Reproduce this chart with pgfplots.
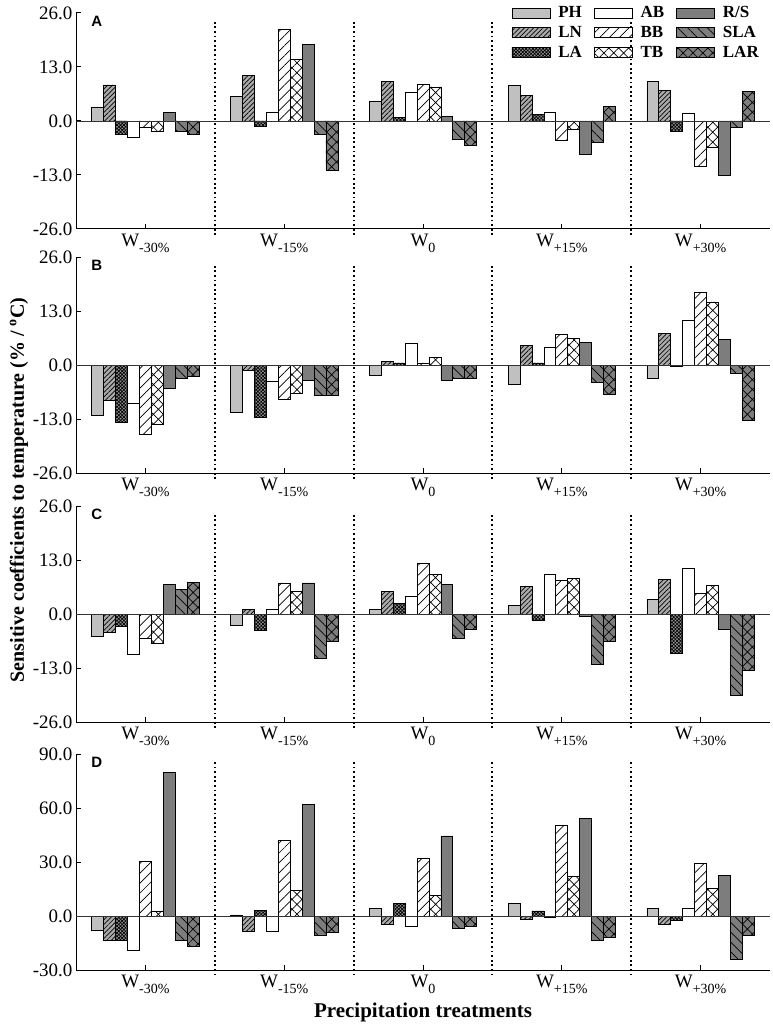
\documentclass[border=0pt]{standalone}
\usepackage{fontspec}
\setmainfont{Liberation Serif}
\newfontfamily\arialf{Liberation Sans}
\usepackage{pgfplots}
\pgfplotsset{compat=1.18}
\usepackage{pgfplotstable}
\usetikzlibrary{patterns.meta}

\definecolor{cPH}{RGB}{192,192,192}
\definecolor{cLN}{RGB}{170,170,170}
\definecolor{cLA}{RGB}{150,150,150}
\definecolor{cDG}{RGB}{125,125,125}

\pgfplotstableread{
x PH LN LA AB BB TB RS SLA LAR
0 3.4 8.7 -3.3 -3.9 -1.6 -2.6 2.0 -2.6 -3.3
1 6.0 11.0 -1.2 2.0 22.1 14.8 18.5 -3.3 -11.8
2 4.7 9.5 0.8 7.0 8.8 8.2 1.2 -4.4 -5.9
3 8.6 6.2 1.6 2.2 -4.7 -2.1 -8.0 -5.2 3.5
4 9.5 7.3 -2.6 1.9 -10.8 -6.3 -13.1 -1.5 7.2
}\tabA
\pgfplotstableread{
x PH LN LA AB BB TB RS SLA LAR
0 -12.1 -8.5 -13.7 -9.3 -16.7 -14.4 -5.6 -3.3 -2.7
1 -11.3 -1.4 -12.5 -4.0 -8.2 -6.9 -3.8 -7.3 -7.3
2 -2.4 0.8 0.5 5.1 0.5 1.9 -3.7 -3.3 -3.2
3 -4.6 4.8 0.5 4.2 7.3 6.4 5.4 -4.1 -7.1
4 -3.3 7.6 -0.3 10.7 17.4 15.2 6.2 -2.1 -13.3
}\tabB
\pgfplotstableread{
x PH LN LA AB BB TB RS SLA LAR
0 -5.3 -4.5 -2.9 -9.6 -5.9 -7.0 7.1 5.9 7.7
1 -2.7 1.2 -3.9 1.1 7.5 5.5 7.5 -10.6 -6.7
2 1.2 5.4 2.6 4.2 12.1 9.6 7.2 -5.9 -3.7
3 2.1 6.6 -1.6 9.5 8.1 8.6 -0.6 -12.0 -6.5
4 3.5 8.4 -9.5 10.9 4.9 6.8 -3.7 -19.5 -13.6
}\tabC
\pgfplotstableread{
x PH LN LA AB BB TB RS SLA LAR
0 -7.7 -13.5 -13.5 -19.0 30.1 2.8 79.9 -13.5 -17.0
1 0.6 -8.3 3.3 -8.5 41.9 14.0 62.2 -10.9 -8.9
2 4.1 -4.6 7.0 -5.5 32.1 11.3 44.5 -6.8 -5.7
3 7.0 -1.8 2.8 -0.9 50.2 22.0 54.1 -13.5 -11.6
4 4.1 -4.6 -2.2 4.2 29.2 15.1 22.5 -24.2 -10.5
}\tabD

\newcommand\Wsub[1]{W\raisebox{-0.65ex}{\fontsize{14}{14}\selectfont #1}}

\tikzset{divs/.style={line width=1.9pt, dash pattern=on 1.9pt off 2.7pt}}

\pgfplotsset{
  mylegend/.style={legend image code/.code={\draw[##1,line width=0.7pt] (0pt,-5pt) rectangle (38pt,5pt);}},
  sPH/.style={fill=cPH,draw=black,line width=0.7pt,mylegend},
  sLN/.style={fill=cLN,draw=black,line width=0.7pt,postaction={pattern={Lines[angle=45,distance=3.3pt,line width=0.7pt]},pattern color=black},mylegend},
  sLA/.style={fill=cLA,draw=black,line width=0.7pt,postaction={pattern={Hatch[angle=45,distance=2.4pt,line width=0.7pt]},pattern color=black},mylegend},
  sAB/.style={fill=white,draw=black,line width=0.7pt,mylegend},
  sBB/.style={fill=white,draw=black,line width=0.7pt,postaction={pattern={Lines[angle=45,distance=7pt,line width=0.7pt]},pattern color=black},mylegend},
  sTB/.style={fill=white,draw=black,line width=0.7pt,postaction={pattern={Hatch[angle=45,distance=7pt,line width=0.7pt]},pattern color=black},mylegend},
  sRS/.style={fill=cDG,draw=black,line width=0.7pt,mylegend},
  sSLA/.style={fill=cDG,draw=black,line width=0.7pt,postaction={pattern={Lines[angle=-45,distance=7pt,line width=0.7pt]},pattern color=black},mylegend},
  sLAR/.style={fill=cDG,draw=black,line width=0.7pt,postaction={pattern={Hatch[angle=45,distance=7pt,line width=0.7pt]},pattern color=black},mylegend},
  panel/.style={
    width=694pt, height=216pt, scale only axis,
    ybar=0pt, bar width=0.086,
    xmin=-0.5, xmax=4.5, xtick={0,1,2,3,4},
    xticklabels={\Wsub{-30\%},\Wsub{-15\%},\Wsub{0},\Wsub{+15\%},\Wsub{+30\%}},
    axis x line*=bottom, axis y line*=left,
    axis line style={line width=1pt},
    tick align=inside, major tick length=5pt,
    tick style={line width=1pt,black},
    tick label style={font=\fontsize{19}{20}\selectfont},
    yticklabel style={/pgf/number format/.cd,fixed,fixed zerofill,precision=1,assume math mode=true},
    xticklabel style={yshift=-2pt},
    clip=false,
  },
}

\newcommand\plotall[1]{%
  \addplot[sPH] table[x=x,y=PH]{#1};
  \addplot[sLN] table[x=x,y=LN]{#1};
  \addplot[sLA] table[x=x,y=LA]{#1};
  \addplot[sAB] table[x=x,y=AB]{#1};
  \addplot[sBB] table[x=x,y=BB]{#1};
  \addplot[sTB] table[x=x,y=TB]{#1};
  \addplot[sRS] table[x=x,y=RS]{#1};
  \addplot[sSLA] table[x=x,y=SLA]{#1};
  \addplot[sLAR] table[x=x,y=LAR]{#1};
}
\newcommand\dividers[2]{%
  \draw[divs] (axis cs:0.5,#1) -- (axis cs:0.5,#2);
  \draw[divs] (axis cs:1.5,#1) -- (axis cs:1.5,#2);
  \draw[divs] (axis cs:2.5,#1) -- (axis cs:2.5,#2);
  \draw[divs] (axis cs:3.5,#1) -- (axis cs:3.5,#2);
  \draw[line width=0.9pt, black!80] (axis cs:-0.5,0) -- (axis cs:4.5,0);
}
\newcommand\plab[1]{\node[font=\arialf\bfseries\fontsize{15}{15}\selectfont] at (rel axis cs:0.03,0.963) {#1};}

\begin{document}
\begin{tikzpicture}
\path[use as bounding box] (0,0) rectangle (773pt,-1033pt);
\begin{axis}[panel, at={(76pt,-13pt)}, anchor=north west,
  ymin=-26, ymax=26, ytick={-26,-13,0,13,26},
  legend columns=3, transpose legend,
  legend style={at={(rel axis cs:0.623,1.045)}, anchor=north west, draw=none, fill=none,
    font=\bfseries\fontsize{17}{17}\selectfont, row sep=5pt,
    nodes={inner sep=1pt},
    /tikz/every odd column/.append style={column sep=7pt},
    /tikz/every even column/.append style={column sep=11pt}},
  legend cell align=left]
\plotall{\tabA}
\legend{PH,LN,LA,AB,BB,TB,R/S,SLA,LAR}
\dividers{-27.5}{24}
\plab{A}
\end{axis}
\begin{axis}[panel, at={(76pt,-257pt)}, anchor=north west,
  ymin=-26, ymax=26, ytick={-26,-13,0,13,26}]
\plotall{\tabB}
\dividers{-27.5}{24}
\plab{B}
\end{axis}
\begin{axis}[panel, at={(76pt,-506pt)}, anchor=north west,
  ymin=-26, ymax=26, ytick={-26,-13,0,13,26}]
\plotall{\tabC}
\dividers{-27.5}{24}
\plab{C}
\end{axis}
\begin{axis}[panel, at={(76pt,-754pt)}, anchor=north west,
  ymin=-30, ymax=90, ytick={-30,0,30,60,90}]
\plotall{\tabD}
\dividers{-33}{86}
\plab{D}
\end{axis}
\node[rotate=90, font=\bfseries\fontsize{20}{20}\selectfont] at (19pt,-490pt) {Sensitive coefficients to temperature (\% / \textsuperscript{o}C)};
\node[font=\bfseries\fontsize{21}{21}\selectfont] at (423pt,-1012pt) {Precipitation treatments};
\end{tikzpicture}
\end{document}
